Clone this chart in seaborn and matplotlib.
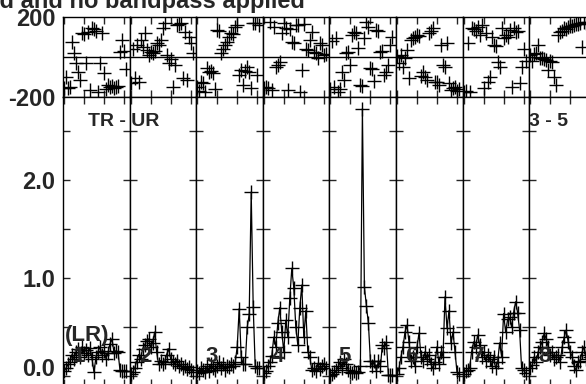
import numpy as np
import pandas as pd
import matplotlib
matplotlib.use('Agg')
import matplotlib.pyplot as plt
import seaborn as sns

# channels in each spectral window, one panel per window
channels = list(range(1, 33))
panel_labels = ['1', '2', '3', '4', '5', '6', '7', '8']

# amplitude (Jy) per channel
amp_1 = [0.05, 0.08, 0.12, 0.15, 0.22, 0.18, 0.25, 0.28, 0.20, 0.30, 0.24, 0.27, 0.22, 0.29, 0.18, 0.04,
         0.20, 0.25, 0.30, 0.22, 0.26, 0.18, 0.24, 0.33, 0.38, 0.24, 0.26, 0.25, 0.06, 0.05, 0.05, 0.05]
amp_2 = [0.02, 0.04, 0.08, 0.15, 0.22, 0.18, 0.28, 0.32, 0.36, 0.38, 0.30, 0.34, 0.45, 0.25, 0.12, 0.16,
         0.12, 0.14, 0.22, 0.28, 0.18, 0.15, 0.12, 0.16, 0.10, 0.12, 0.08, 0.10, 0.07, 0.09, 0.06, 0.04]
amp_3 = [0.05, 0.03, 0.08, 0.06, 0.04, 0.10, 0.05, 0.12, 0.08, 0.06, 0.10, 0.14, 0.08, 0.12, 0.06, 0.10,
         0.09, 0.12, 0.10, 0.14, 0.30, 0.69, 0.20, 0.12, 0.12, 0.50, 0.63, 1.88, 0.71, 0.10, 0.08, 0.08]
amp_4 = [0.03, 0.05, 0.10, 0.15, 0.21, 0.40, 0.30, 0.54, 0.70, 0.45, 0.25, 0.57, 0.40, 0.80, 1.10, 0.90,
         0.50, 0.32, 0.70, 0.93, 0.40, 0.67, 0.25, 0.20, 0.06, 0.08, 0.05, 0.13, 0.07, 0.10, 0.12, 0.08]
amp_5 = [0.01, 0.02, 0.04, 0.06, 0.10, 0.15, 0.08, 0.18, 0.12, 0.06, 0.04, 0.03, 0.05, 0.03, 0.04, 0.10,
         2.73, 0.91, 0.72, 0.54, 0.16, 0.10, 0.16, 0.05, 0.16, 0.10, 0.32, 0.29, 0.35, 0.01, 0.01, 0.01]
amp_6 = [0.02, 0.08, 0.20, 0.30, 0.45, 0.52, 0.35, 0.16, 0.20, 0.10, 0.30, 0.44, 0.20, 0.16, 0.25, 0.18,
         0.22, 0.12, 0.08, 0.15, 0.30, 0.12, 0.25, 0.20, 0.81, 0.49, 0.67, 0.34, 0.45, 0.25, 0.04, 0.02]
amp_7 = [0.02, 0.05, 0.06, 0.08, 0.25, 0.35, 0.30, 0.42, 0.32, 0.20, 0.25, 0.16, 0.22, 0.18, 0.10, 0.20,
         0.08, 0.14, 0.34, 0.20, 0.64, 0.45, 0.58, 0.60, 0.50, 0.65, 0.76, 0.65, 0.47, 0.08, 0.06, 0.03]
amp_8 = [0.08, 0.11, 0.20, 0.15, 0.25, 0.30, 0.35, 0.44, 0.38, 0.30, 0.22, 0.25, 0.18, 0.20, 0.22, 0.15,
         0.30, 0.40, 0.47, 0.35, 0.25, 0.20, 0.10, 0.06, 0.15, 0.16, 0.25, 0.30, 0.18, 0.22, 0.20, 0.15]

# phase (degrees) per channel
phase_1 = [-155, -100, -155, -150, 75, 20, -30, -75, -115, 120, 115, -30, 125, -165, 145, 140,
           130, -175, -30, 120, -80, -160, -140, -150, -145, -155, -150, -145, 25, 85, 30, -60]
phase_2 = [-130, 40, -105, 60, -125, 85, 50, 120, 35, 10, 25, 20, 30, 70, 60, 85,
           145, 170, 10, -30, -10, -150, -40, 160, 165, 170, -105, 125, -115, 100, 70, 20]
phase_3 = [-150, -170, -125, -130, -175, -55, -75, -70, -80, -160, 135, 130, 20, 40, 60, 75,
           100, 120, 115, 150, 160, -90, -65, -140, -70, -50, -75, -155, 170, 170, -90, 160]
phase_4 = [-155, -150, -155, 175, -165, 150, -50, -40, -25, 120, 170, 145, -165, 140, 75, 70,
           160, 160, -175, -65, 165, 40, 35, 85, 125, 25, 20, -5, 70, 60, 10, 15]
phase_5 = [-160, 80, -150, 95, -175, -160, -75, -115, 20, 25, -40, 110, 125, 120, 45, -140,
           -145, 95, 175, 150, -55, -60, -120, 135, 130, 25, 30, -90, -75, -40, 60, 100]
phase_6 = [5, -30, 10, -50, -5, 35, -105, 85, 95, 100, 110, 105, -95, -75, -100, -115,
           120, 130, 145, -125, -125, -140, 60, -40, -50, 70, -130, -165, -155, -150, -170, -160]
phase_7 = [-175, -170, 70, -175, 145, 140, 130, 150, 110, 160, -155, 120, -125, -100, 100, 60,
           55, -25, -50, 145, 95, 110, 100, 135, -150, 145, 125, 130, -130, -50, 40, -20]
phase_8 = [10, -20, 15, 20, 60, -5, -5, -10, -15, -65, -20, -25, -100, -140, 110, 125,
           130, 145, 140, 150, 155, 155, 160, 165, 165, 170, 50, 175, 170, 175, 165, 170]

amps = [amp_1, amp_2, amp_3, amp_4, amp_5, amp_6, amp_7, amp_8]
phases = [phase_1, phase_2, phase_3, phase_4, phase_5, phase_6, phase_7, phase_8]

rows = []
for i, (a, p) in enumerate(zip(amps, phases)):
    for ch, av, pv in zip(channels, a, p):
        rows.append({'panel': i, 'channel': ch, 'amp': av, 'phase': pv})
df = pd.DataFrame(rows)

sns.set_style('white')
plt.rcParams['font.family'] = ['Liberation Sans', 'DejaVu Sans']
plt.rcParams['font.weight'] = 'bold'
plt.rcParams['axes.unicode_minus'] = False

W, H = 586, 384
fig = plt.figure(figsize=(W / 100, H / 100), dpi=100)


def fx(px):
    return px / W


def fy(py):
    return 1 - py / H


x0 = 63.0
pw = 66.6
lab_size = 17
for i in range(len(panel_labels)):
    left = fx(x0 + i * pw)
    axp = fig.add_axes([left, fy(97), pw / W, (97 - 17) / H])
    axa = fig.add_axes([left, fy(386), pw / W, (386 - 97) / H])
    sub = df[df.panel == i]

    # phase: markers only
    sns.scatterplot(data=sub, x='channel', y='phase', ax=axp, marker='+',
                    color='black', s=90, linewidth=1.0, legend=False)
    axp.axhline(0, color='black', lw=1)
    axp.set_ylim(-200, 200)
    axp.set_yticks([-200, 200])
    axp.set_yticklabels(['-200', '200'])
    axp.tick_params(axis='y', length=0, pad=5.5, labelsize=lab_size,
                    labelleft=(i == 0))

    # amplitude: line + markers
    sns.lineplot(data=sub, x='channel', y='amp', ax=axa, color='black', lw=0.9,
                 marker='+', markersize=9.5, markeredgewidth=1.0,
                 markeredgecolor='black', legend=False)
    axa.set_ylim(-0.1, 2.85)
    axa.set_yticks([0, 1, 2])
    axa.set_yticklabels(['', '1.0', '2.0'])
    axa.set_yticks([0.5, 1.5, 2.5], minor=True)
    axa.tick_params(axis='y', which='both', direction='in', left=True, right=True,
                    length=5, width=1, pad=5.5, labelsize=lab_size, labelleft=(i == 0))

    for ax in (axp, axa):
        ax.set_xlim(0.5, 33.8)
        ax.set_xticks([1, 11, 21, 31])
        ax.tick_params(axis='x', direction='in', top=True, bottom=True,
                       length=5, width=1, labelbottom=False)
        ax.set_xlabel('')
        ax.set_ylabel('')
        for sp in ax.spines.values():
            sp.set_color('black')
            sp.set_linewidth(1.0)

    fig.text(fx(x0 + i * pw + 15.5), fy(356), panel_labels[i], fontsize=16,
             fontweight='bold', ha='center', va='center', zorder=10)

# bottom amplitude label sits a little above its tick, as in the original
fig.text(fx(55), fy(370), '0.0', fontsize=lab_size, fontweight='bold', ha='right', va='center')

fig.text(fx(305), fy(8), 'Phase calibrated and no bandpass applied', fontsize=17,
         fontweight='bold', ha='right', va='baseline')
fig.text(fx(88), fy(121), 'TR - UR', fontsize=14, fontweight='bold', ha='left', va='center')
fig.text(fx(529), fy(121), '3 - 5', fontsize=14, fontweight='bold', ha='left', va='center')
fig.text(fx(65), fy(335), '(LR)', fontsize=16, fontweight='bold', ha='left', va='center', zorder=10)

fig.savefig('out.png', dpi=100)
